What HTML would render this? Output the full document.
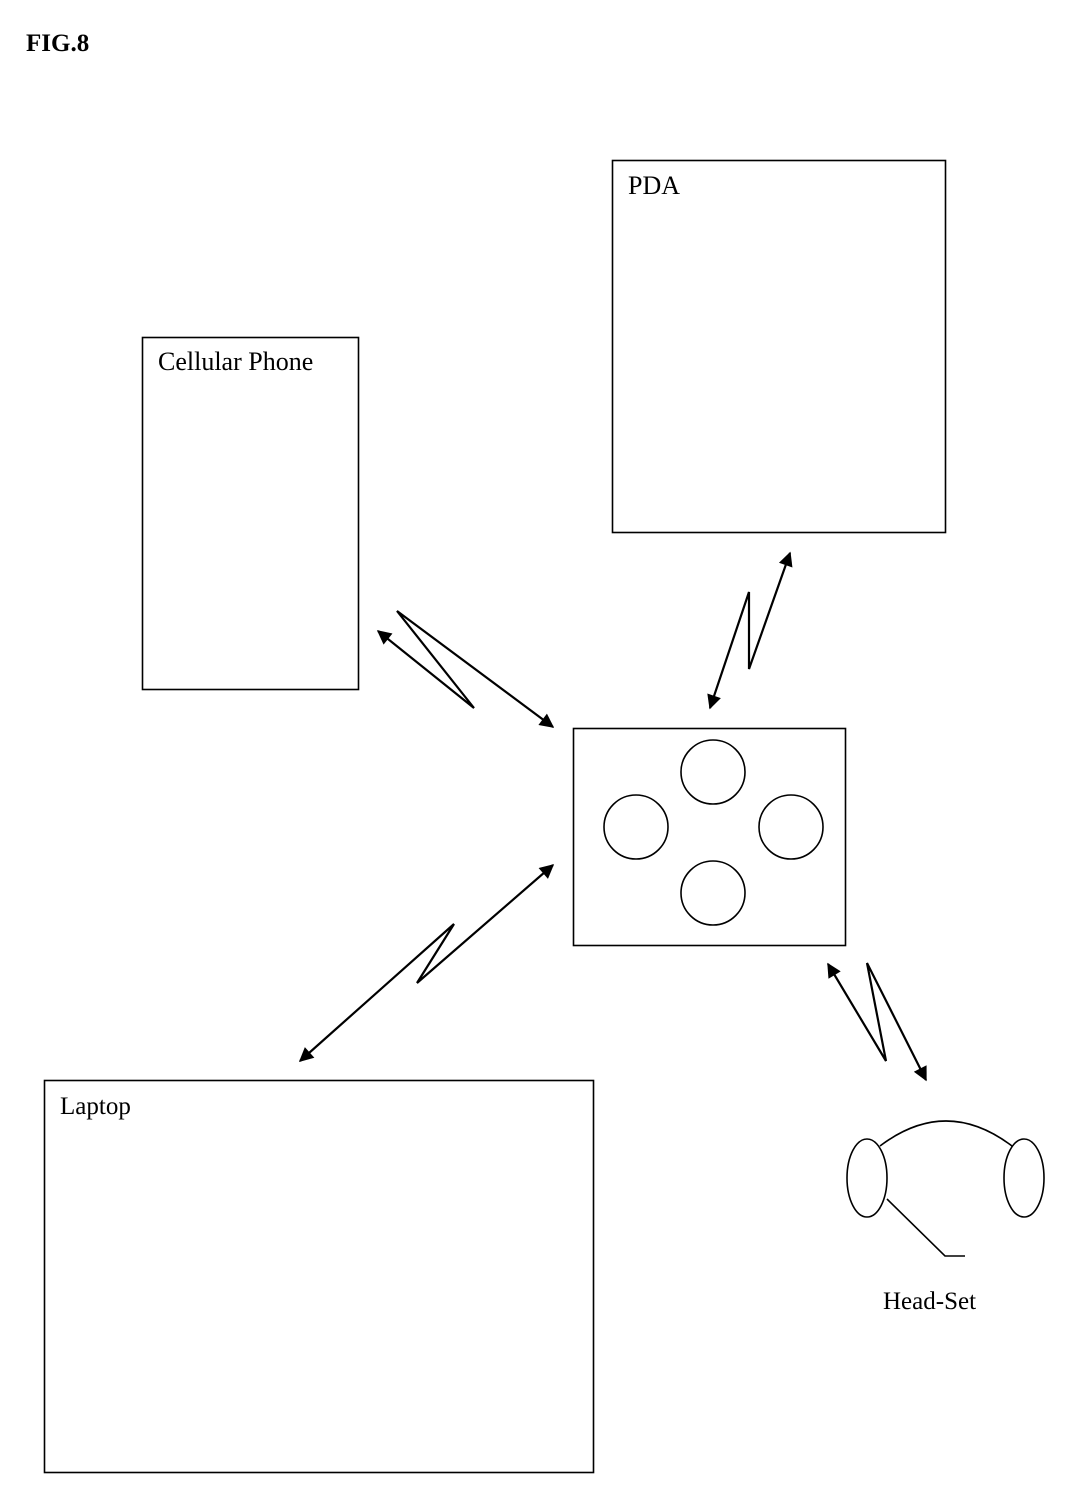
<!DOCTYPE html>
<html><head><meta charset="utf-8"><style>
html,body{margin:0;padding:0;background:#fff}
svg{display:block}
text{font-family:"Liberation Serif",serif;fill:#000}
</style></head><body>
<svg width="1070" height="1497" viewBox="0 0 1070 1497" xmlns="http://www.w3.org/2000/svg">
<defs>
<marker id="a" viewBox="0 0 10 10" refX="9" refY="5" markerWidth="7.5" markerHeight="6.5" orient="auto-start-reverse" markerUnits="strokeWidth"><path d="M0,0 L10,5 L0,10 z" fill="#000"/></marker>
</defs>
<text x="26" y="51" font-size="25" font-weight="bold">FIG.8</text>
<g fill="none" stroke="#000" stroke-width="1.6">
<rect x="612.5" y="160.5" width="333" height="372"/>
<rect x="142.5" y="337.5" width="216" height="352"/>
<rect x="573.5" y="728.5" width="272" height="217"/>
<rect x="44.5" y="1080.5" width="549" height="392"/>
<circle cx="713" cy="772" r="32"/>
<circle cx="636" cy="827" r="32"/>
<circle cx="791" cy="827" r="32"/>
<circle cx="713" cy="893" r="32"/>
<ellipse cx="867" cy="1178" rx="20" ry="39"/>
<ellipse cx="1024" cy="1178" rx="20" ry="39"/>
<path d="M880,1146 Q946,1096 1012,1146"/>
<path d="M887,1199 L945,1256 L965,1256"/>
</g>
<g fill="none" stroke="#000" stroke-width="2.2" stroke-linejoin="miter">
<polyline points="378,631 474,708 397,611 553,727" marker-start="url(#a)" marker-end="url(#a)"/>
<polyline points="710,708 749,592 749,669 790,553" marker-start="url(#a)" marker-end="url(#a)"/>
<polyline points="300,1061 454,924 417,983 553,865" marker-start="url(#a)" marker-end="url(#a)"/>
<polyline points="828,964 886,1061 867,963 926,1080" marker-start="url(#a)" marker-end="url(#a)"/>
</g>
<text x="628" y="194" font-size="26">PDA</text>
<text x="158" y="370" font-size="26">Cellular Phone</text>
<text x="60" y="1114" font-size="25">Laptop</text>
<text x="883" y="1309" font-size="25">Head-Set</text>
</svg>
</body></html>
